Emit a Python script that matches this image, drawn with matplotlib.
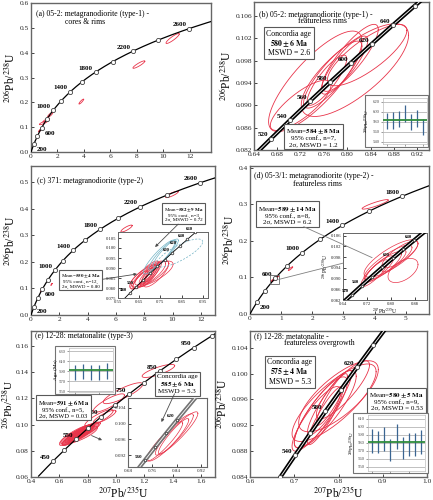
import numpy as np
import matplotlib.pyplot as plt
from matplotlib.patches import Rectangle, ConnectionPatch

plt.rcParams['font.family'] = ['Liberation Serif', 'DejaVu Serif']
plt.rcParams['mathtext.fontset'] = 'stix'

L238 = 1.55125e-10  # decay constants, 1/yr
L235 = 9.8485e-10

RED = '#e8344a'
TEAL = '#74b4c6'
BAR = '#3a6592'
GREEN = '#2e8b3c'
YLAB = '$^{206}$Pb/$^{238}$U'
XLAB = '$^{207}$Pb/$^{235}$U'

# ---- concordia markers / labelled ages (Ma) ----
marks_a = [200, 400, 600, 800, 1000, 1200, 1400, 1600, 1800, 2000, 2200, 2400, 2600, 2800]
lab_a = [200, 600, 1000, 1400, 1800, 2200, 2600]
marks_b = [500, 520, 540, 560, 580, 600, 620, 640, 660]
lab_b = [520, 540, 560, 580, 600, 620, 640]
marks_c_in = [480, 500, 520, 540, 560, 580, 600, 620, 640, 660]
lab_c_in = [480, 500, 600, 620, 640, 660]
marks_d = [200, 400, 600, 800, 1000, 1200, 1400, 1600, 1800, 2000]
lab_d = [200, 600, 1000, 1400, 1800]
marks_d_in = [520, 540, 560, 580, 600, 620, 640]
lab_d_in = [520, 540, 600, 640]
marks_e = [450, 500, 550, 600, 650, 700, 750, 800, 850, 900, 950, 1000]
lab_e = [450, 550, 650, 750, 850, 950]
marks_e_in = [560, 580, 600, 620]
lab_e_in = [560, 620]
marks_f = [520, 540, 560, 580, 600, 620, 640, 660]
lab_f = [540, 580, 620]

# ---- error ellipses: (207Pb/235U, 206Pb/238U, half-width, half-height, rho) ----
ell_a = [(10.70, 0.457, 0.50, 0.020, 0.90), (8.15, 0.352, 0.45, 0.015, 0.90),
         (3.80, 0.203, 0.18, 0.010, 0.90), (0.95, 0.118, 0.32, 0.008, 0.85),
         (1.15, 0.128, 0.25, 0.008, 0.85), (1.45, 0.150, 0.20, 0.010, 0.85)]
dots_a = [(0.72, 0.089, 0.10, 0.006, 0.9), (0.80, 0.096, 0.08, 0.005, 0.9),
          (0.62, 0.085, 0.06, 0.004, 0.9)]

ell_b = [(0.745, 0.0943, 0.080, 0.0090, 0.80), (0.813, 0.0963, 0.092, 0.0083, 0.75),
         (0.834, 0.0990, 0.068, 0.0055, 0.80), (0.720, 0.0900, 0.052, 0.0045, 0.80),
         (0.775, 0.0955, 0.050, 0.0060, 0.85), (0.765, 0.0945, 0.034, 0.0045, 0.85),
         (0.795, 0.0972, 0.040, 0.0052, 0.85), (0.805, 0.0985, 0.048, 0.0060, 0.85)]

ell_c = [(9.95, 0.453, 0.45, 0.012, 0.85), (6.75, 0.325, 0.40, 0.013, 0.85)]
dots_c = [(0.76, 0.093, 0.09, 0.005, 0.9), (1.45, 0.115, 0.05, 0.004, 0.9)]
ell_c_red = [(0.690, 0.0865, 0.085, 0.0070, 0.80), (0.710, 0.0870, 0.100, 0.0065, 0.75),
             (0.680, 0.0858, 0.060, 0.0060, 0.85), (0.700, 0.0862, 0.045, 0.0055, 0.85),
             (0.695, 0.0870, 0.035, 0.0050, 0.85), (0.720, 0.0875, 0.070, 0.0060, 0.80),
             (0.670, 0.0850, 0.050, 0.0050, 0.85), (0.705, 0.0866, 0.030, 0.0045, 0.90),
             (0.715, 0.0880, 0.040, 0.0050, 0.85), (0.730, 0.0870, 0.060, 0.0065, 0.80),
             (0.685, 0.0875, 0.055, 0.0060, 0.85), (0.650, 0.0840, 0.040, 0.0045, 0.85)]
ell_c_blue = [(0.745, 0.0955, 0.075, 0.0085, 0.90), (0.760, 0.0965, 0.065, 0.0075, 0.90),
              (0.775, 0.0975, 0.060, 0.0070, 0.90)]
ell_c_dash = [(0.840, 0.0975, 0.110, 0.0070, 0.80)]

ell_d = [(4.02, 0.300, 0.42, 0.013, 0.90), (1.30, 0.124, 0.07, 0.005, 0.90)]
dots_d = [(0.78, 0.095, 0.10, 0.006, 0.9), (0.85, 0.100, 0.06, 0.004, 0.9)]
ell_d_in = [(0.790, 0.0960, 0.080, 0.0065, 0.85), (0.800, 0.0975, 0.090, 0.0070, 0.80),
            (0.775, 0.0945, 0.060, 0.0055, 0.85), (0.760, 0.0935, 0.050, 0.0050, 0.85),
            (0.830, 0.0990, 0.060, 0.0050, 0.80), (0.840, 0.0930, 0.050, 0.0045, 0.50),
            (0.745, 0.0920, 0.045, 0.0050, 0.85), (0.810, 0.0965, 0.040, 0.0040, 0.85)]

ell_e = [(1.30, 0.1410, 0.115, 0.0050, 0.80), (1.05, 0.1240, 0.140, 0.0080, 0.85),
         (0.95, 0.1165, 0.110, 0.0070, 0.85), (0.88, 0.1050, 0.100, 0.0065, 0.85),
         (0.92, 0.1060, 0.080, 0.0050, 0.85)]
clus_e = [(0.72, 0.0920, 0.12, 0.0080, 0.85), (0.74, 0.0930, 0.10, 0.0070, 0.85),
          (0.75, 0.0940, 0.09, 0.0060, 0.85), (0.70, 0.0900, 0.08, 0.0060, 0.85),
          (0.78, 0.0950, 0.10, 0.0065, 0.85), (0.76, 0.0925, 0.07, 0.0050, 0.85),
          (0.73, 0.0915, 0.06, 0.0050, 0.85), (0.71, 0.0905, 0.05, 0.0040, 0.85),
          (0.77, 0.0945, 0.08, 0.0055, 0.85), (0.69, 0.0895, 0.07, 0.0050, 0.85),
          (0.80, 0.0960, 0.09, 0.0060, 0.85), (0.74, 0.0920, 0.13, 0.0070, 0.80)]
ell_e_in = [(0.820, 0.0965, 0.075, 0.0060, 0.92), (0.840, 0.0975, 0.070, 0.0055, 0.92),
            (0.800, 0.0955, 0.060, 0.0050, 0.92), (0.830, 0.0968, 0.050, 0.0045, 0.92)]

ell_f = [(0.790, 0.0955, 0.095, 0.0060, 0.80), (0.800, 0.0965, 0.090, 0.0055, 0.75),
         (0.770, 0.0945, 0.070, 0.0060, 0.85), (0.760, 0.0940, 0.060, 0.0055, 0.85),
         (0.780, 0.0955, 0.050, 0.0050, 0.90), (0.770, 0.0935, 0.040, 0.0045, 0.90),
         (0.810, 0.0975, 0.060, 0.0045, 0.85), (0.750, 0.0930, 0.055, 0.0050, 0.85),
         (0.785, 0.0960, 0.035, 0.0040, 0.90)]

# ---- weighted mean insets (Ma) ----
wm_b = [581, 583, 586, 597, 579, 587, 569]
wm_b_err = [16, 17, 16, 17, 16, 17, 16]
wm_b_mean = 583
wm_e = [588, 589, 588, 588, 590]
wm_e_err = [15, 15, 15, 15, 16]
wm_e_mean = 593
wm_f = [583, 581, 585, 571, 588, 574, 578, 578, 581]
wm_f_err = [15, 14, 15, 14, 16, 14, 14, 14, 15]
wm_f_mean = 581

# ---- ticks ----
xt_a = [0, 2, 4, 6, 8, 10, 12]
yt_a = [0.0, 0.1, 0.2, 0.3, 0.4, 0.5, 0.6]
xt_b = [0.64, 0.68, 0.72, 0.76, 0.80, 0.84, 0.88, 0.92]
yt_b = [0.082, 0.086, 0.090, 0.094, 0.098, 0.102, 0.106]
yt_c = [0.0, 0.1, 0.2, 0.3, 0.4, 0.5]
xt_c_in = [0.55, 0.65, 0.75, 0.85, 0.95]
yt_c_in = [0.075, 0.080, 0.085, 0.090, 0.095, 0.100, 0.105]
xt_d = [0, 1, 2, 3, 4, 5]
yt_d = [0.0, 0.1, 0.2, 0.3, 0.4]
xt_d_in = [0.64, 0.72, 0.80, 0.88]
yt_d_in = [0.082, 0.086, 0.090, 0.094, 0.098, 0.102, 0.106]
xt_e = [0.4, 0.6, 0.8, 1.0, 1.2, 1.4, 1.6]
yt_e = [0.06, 0.08, 0.10, 0.12, 0.14, 0.16]
xt_e_in = [0.68, 0.76, 0.84, 0.92]
yt_e_in = [0.092, 0.096, 0.100, 0.104]
xt_f = [0.6, 0.7, 0.8, 0.9, 1.0]
yt_f = [0.084, 0.088, 0.092, 0.096, 0.100, 0.104]
yt_wm_b = [540, 560, 580, 600, 620]
yt_wm_e = [550, 570, 590, 610, 630]
yt_wm_f = [550, 560, 570, 580, 590, 600, 610]


fig = plt.figure(figsize=(4.33, 5.0), dpi=100)


def px(x0, y0, x1, y1):
    # pixel box (top-left origin) -> figure fraction rect
    return [x0 / 433, 1 - y1 / 500, (x1 - x0) / 433, (y1 - y0) / 500]


def conc_xy(t):
    t = np.asarray(t, dtype=float) * 1e6
    return np.exp(L235 * t) - 1, np.exp(L238 * t) - 1


def concordia(ax, t0, t1, marks, labels, right=(), thick=False, color='k',
              lw=0.9, ms=3, fs=5):
    x, y = conc_xy(np.linspace(t0, t1, 500))
    if thick:
        ax.plot(x, y, color=color, lw=3.0, solid_capstyle='butt', zorder=3)
        ax.plot(x, y, color='white', lw=0.6, zorder=3)
    else:
        ax.plot(x, y, color=color, lw=lw, zorder=3)
    mx, my = conc_xy(marks)
    ax.plot(mx, my, 'o', ms=ms, mfc='white', mec='0.25', mew=0.6, zorder=4)
    for t in labels:
        lx, ly = conc_xy(t)
        if t in right:
            ax.annotate(str(t), (lx, ly), xytext=(2, -2), textcoords='offset points',
                        ha='left', va='top', fontsize=fs, fontweight='bold', zorder=5)
        else:
            ax.annotate(str(t), (lx, ly), xytext=(-2, 1), textcoords='offset points',
                        ha='right', va='bottom', fontsize=fs, fontweight='bold', zorder=5)


def ellipses(ax, ells, color=RED, lw=0.6, fill=None, alpha=1.0, ls='-'):
    th = np.linspace(0, 2 * np.pi, 150)
    for cx, cy, sx, sy, r in ells:
        x = cx + sx * np.cos(th)
        y = cy + sy * (r * np.cos(th) + np.sqrt(1 - r * r) * np.sin(th))
        if fill:
            ax.fill(x, y, color=fill, lw=0, alpha=alpha, zorder=2)
        ax.plot(x, y, color=color, lw=lw, ls=ls, zorder=2)


def style(ax, xlim, ylim, xt, yt, fx, fy, fs=5.3, spine=1.0):
    ax.set_xlim(xlim)
    ax.set_ylim(ylim)
    ax.set_xticks(xt)
    ax.set_yticks(yt)
    ax.set_xticklabels([fx.format(v) for v in xt])
    ax.set_yticklabels([fy.format(v) for v in yt])
    ax.tick_params(direction='in', length=2, width=0.6, labelsize=fs,
                   colors='0.15', pad=1.5)
    for s in ax.spines.values():
        s.set_color('0.4')
        s.set_linewidth(spine)


def textbox(ax, x, y, s, fs=5.6, transform=None):
    ax.text(x, y, s, transform=transform or ax.transAxes, ha='center', va='center',
            fontsize=fs, linespacing=1.05, zorder=6,
            bbox=dict(boxstyle='square,pad=0.3', fc='white', ec='0.35', lw=0.8))


def wm_inset(frame, inner, vals, errs, mean, ylim, yt, ylabel):
    fig.add_artist(Rectangle((frame[0], frame[1]), frame[2], frame[3],
                             transform=fig.transFigure, fc='white', ec='0.45',
                             lw=0.8, zorder=2))
    ax = fig.add_axes(inner, zorder=3)
    vals = np.asarray(vals)
    errs = np.asarray(errs)
    xs = np.arange(1, len(vals) + 1)
    for v in yt:
        ax.axhline(v, color='0.65', lw=0.5, zorder=1)
    ax.vlines(xs, vals - errs, vals + errs, color=BAR, lw=0.9, zorder=2)
    ax.axhline(mean, color=GREEN, lw=1.3, zorder=3)
    ax.set_xlim(0.3, len(vals) + 0.7)
    ax.set_ylim(ylim)
    ax.set_yticks(yt)
    ax.set_xticks(xs[::3])
    ax.set_xticklabels([])
    ax.tick_params(direction='out', length=1.2, width=0.4, labelsize=3.4,
                   colors='0.3', pad=1)
    for s in ax.spines.values():
        s.set_color('0.75')
        s.set_linewidth(0.5)
    ax.set_ylabel(ylabel, fontsize=3.8, labelpad=1)
    return ax


# ---------------- (a) ----------------
ax_a = fig.add_axes(px(31, 3, 211, 152))
concordia(ax_a, 0, 2900, marks_a, lab_a, right=(200, 600))
ellipses(ax_a, ell_a)
ellipses(ax_a, dots_a, fill=RED)
style(ax_a, (0, 13.6), (0, 0.6), xt_a, yt_a, '{:.0f}', '{:.1f}')
ax_a.set_ylabel(YLAB, fontsize=8.3, labelpad=2)
ax_a.text(0.03, 0.925, '(a) 05-2: metagranodiorite (type-1) -', transform=ax_a.transAxes,
          fontsize=5.6, va='center')
ax_a.text(0.19, 0.875, 'cores & rims', transform=ax_a.transAxes, fontsize=5.6, va='center')

# ---------------- (b) ----------------
ax_b = fig.add_axes(px(254, 2, 429, 150))
ellipses(ax_b, ell_b)
concordia(ax_b, 480, 700, marks_b, lab_b, thick=True)
style(ax_b, (0.64, 0.94), (0.082, 0.1085), xt_b, yt_b, '{:.2f}', '{:.3f}')
ax_b.set_ylabel(YLAB, fontsize=8.3, labelpad=2)
ax_b.text(0.03, 0.915, '(b) 05-2: metagranodiorite (type-1) -', transform=ax_b.transAxes,
          fontsize=5.6, va='center')
ax_b.text(0.25, 0.87, 'featureless rims', transform=ax_b.transAxes, fontsize=5.6, va='center')
textbox(ax_b, 0.20, 0.72, 'Concordia age\n$\\mathbf{580\\pm6\\ Ma}$\nMSWD = 2.6')
textbox(ax_b, 0.34, 0.085, 'Mean=$\\mathbf{584\\pm8\\ Ma}$\n95% conf., n=7,\n2σ, MSWD = 1.2',
        fs=5.0)
wm_inset(px(365, 95, 428, 147), px(383, 98, 427, 144), wm_b, wm_b_err, wm_b_mean,
         (535, 628), yt_wm_b, YLAB)

# ---------------- (c) ----------------
ax_c = fig.add_axes(px(31, 166, 215, 315))
concordia(ax_c, 0, 2900, marks_a, lab_a, right=(200, 600))
ellipses(ax_c, ell_c)
ellipses(ax_c, dots_c, fill=RED)
style(ax_c, (0, 13.0), (0, 0.56), xt_a, yt_c, '{:.0f}', '{:.1f}')
ax_c.set_ylabel(YLAB, fontsize=8.3, labelpad=2)
ax_c.text(0.03, 0.90, '(c) 371: metagranodiorite (type-2)', transform=ax_c.transAxes,
          fontsize=5.6, va='center')
ins_c = fig.add_axes(px(118, 232, 208, 298), zorder=3)
ellipses(ins_c, ell_c_red, lw=0.5)
ellipses(ins_c, ell_c_blue, color=TEAL, lw=0.5)
ellipses(ins_c, ell_c_dash, color=TEAL, lw=0.5, ls=(0, (3, 2)))
concordia(ins_c, 440, 700, marks_c_in, lab_c_in, lw=0.6, ms=1.8, fs=3.4)
style(ins_c, (0.55, 0.975), (0.075, 0.108), xt_c_in, yt_c_in, '{:.2f}', '{:.3f}',
      fs=3.4, spine=0.7)
textbox(ax_c, 0.83, 0.675, 'Mean=$\\mathbf{582\\pm9\\ Ma}$\n95% conf., n=3,\n2σ, MSWD = 0.72',
        fs=3.6)
textbox(ax_c, 0.27, 0.23, 'Mean=$\\mathbf{550\\pm4\\ Ma}$\n95% conf., n=12,\n2σ, MSWD = 0.80',
        fs=3.6)
fig.add_artist(ConnectionPatch((0.80, 0.61), (0.725, 0.1005), coordsA=ax_c.transAxes,
                               coordsB=ins_c.transData, arrowstyle='-|>', mutation_scale=4,
                               color='0.3', lw=0.6, zorder=6))
fig.add_artist(ConnectionPatch((0.39, 0.24), (0.64, 0.087), coordsA=ax_c.transAxes,
                               coordsB=ins_c.transData, arrowstyle='-|>', mutation_scale=4,
                               color='0.3', lw=0.6, zorder=6))

# ---------------- (d) ----------------
ax_d = fig.add_axes(px(250, 166, 429, 314))
concordia(ax_d, 0, 2100, marks_d, lab_d, right=(200,))
ellipses(ax_d, ell_d)
ellipses(ax_d, dots_d, fill=RED)
style(ax_d, (0, 5.75), (0, 0.405), xt_d, yt_d, '{:.0f}', '{:.1f}')
ax_d.set_ylabel(YLAB, fontsize=8.3, labelpad=2)
ax_d.text(0.02, 0.935, '(d) 05-3/1: metagranodiorite (type-2) -', transform=ax_d.transAxes,
          fontsize=5.6, va='center')
ax_d.text(0.24, 0.88, 'featureless rims', transform=ax_d.transAxes, fontsize=5.6, va='center')
ins_d = fig.add_axes(px(343, 233, 427, 300), zorder=3)
ellipses(ins_d, ell_d_in, lw=0.5)
concordia(ins_d, 480, 700, marks_d_in, lab_d_in, thick=True, ms=1.8, fs=3.4)
style(ins_d, (0.64, 0.92), (0.082, 0.107), xt_d_in, yt_d_in, '{:.2f}', '{:.3f}',
      fs=3.4, spine=0.7)
ins_d.set_xlabel(XLAB, fontsize=4.0, labelpad=0)
ins_d.set_ylabel(YLAB, fontsize=4.0, labelpad=0)
x0, x1 = ins_d.get_xlim()
y0, y1 = ins_d.get_ylim()
ax_d.add_patch(Rectangle((x0, y0), x1 - x0, y1 - y0, fill=False, ec='0.4', lw=0.6, zorder=5))
textbox(ax_d, 0.21, 0.67, 'Mean=$\\mathbf{589\\pm14\\ Ma}$\n95% conf., n=8,\n2σ, MSWD = 6.2',
        fs=5.0)
fig.add_artist(ConnectionPatch((0.30, 0.59), (0.737, 0.0978), coordsA=ax_d.transAxes,
                               coordsB=ins_d.transData, color='0.5', lw=0.6, zorder=6))
fig.add_artist(ConnectionPatch((x1, (y0 + y1) / 2), (0.0, 0.55), coordsA=ax_d.transData,
                               coordsB=ins_d.transAxes, color='0.5', lw=0.6, zorder=6))

# ---------------- (e) ----------------
ax_e = fig.add_axes(px(31, 331, 215, 477))
ellipses(ax_e, clus_e, fill=RED, alpha=0.35, lw=0.5)
ellipses(ax_e, ell_e)
concordia(ax_e, 380, 1100, marks_e, lab_e)
style(ax_e, (0.4, 1.7), (0.06, 0.1715), xt_e, yt_e, '{:.1f}', '{:.2f}')
ax_e.set_ylabel(YLAB, fontsize=8.0, labelpad=0.5)
ax_e.set_xlabel(XLAB, fontsize=8.3, labelpad=1)
ax_e.text(0.02, 0.965, '(e) 12-28: metatonalite (type-3)', transform=ax_e.transAxes,
          fontsize=5.6, va='center')
ins_e = fig.add_axes(px(128, 398, 207, 467), zorder=3)
concordia(ins_e, 500, 700, marks_e_in, lab_e_in, thick=True, color='0.45', ms=1.8, fs=3.6)
ellipses(ins_e, ell_e_in, lw=0.5)
style(ins_e, (0.68, 0.94), (0.089, 0.1065), xt_e_in, yt_e_in, '{:.2f}', '{:.3f}',
      fs=3.6, spine=0.8)
textbox(ax_e, 0.175, 0.47, 'Mean=$\\mathbf{591\\pm6\\ Ma}$\n95% conf., n=5,\n2σ, MSWD = 0.03',
        fs=4.7)
textbox(ax_e, 0.795, 0.635, 'Concordia age\n$\\mathbf{585\\pm6\\ Ma}$\nMSWD = 5.3', fs=5.0)
fig.add_artist(ConnectionPatch((0.78, 0.57), (0.79, 0.1004), coordsA=ax_e.transAxes,
                               coordsB=ins_e.transData, arrowstyle='-|>', mutation_scale=4,
                               color='0.3', lw=0.6, zorder=6))
ax_e.annotate('', xy=(0.92, 0.0873), xytext=(0.81, 0.0925),
              arrowprops=dict(arrowstyle='-|>', mutation_scale=4, color='0.3', lw=0.6),
              zorder=6)
wm_inset(px(55, 346, 115, 394), px(69, 348, 113, 392), wm_e, wm_e_err, wm_e_mean,
         (548, 636), yt_wm_e, 'Age (Ma)')

# ---------------- (f) ----------------
ax_f = fig.add_axes(px(250, 331, 427, 477))
ellipses(ax_f, ell_f)
concordia(ax_f, 500, 700, marks_f, lab_f, thick=True)
style(ax_f, (0.6, 1.0), (0.084, 0.1066), xt_f, yt_f, '{:.1f}', '{:.3f}')
ax_f.set_ylabel(YLAB, fontsize=8.3, labelpad=2)
ax_f.set_xlabel(XLAB, fontsize=8.3, labelpad=1)
ax_f.text(0.02, 0.965, '(f) 12-28: metatonalite -', transform=ax_f.transAxes,
          fontsize=5.6, va='center')
ax_f.text(0.19, 0.915, 'featureless overgrowth', transform=ax_f.transAxes,
          fontsize=5.6, va='center')
textbox(ax_f, 0.225, 0.72, 'Concordia age\n$\\mathbf{575\\pm4\\ Ma}$\nMSWD = 5.3')
textbox(ax_f, 0.83, 0.52, 'Mean=$\\mathbf{580\\pm5\\ Ma}$\n95% conf., n=9,\n2σ, MSWD = 0.53',
        fs=5.0)
wm_inset(px(353, 413, 428, 473), px(368, 415, 425, 471), wm_f, wm_f_err, wm_f_mean,
         (545, 615), yt_wm_f, YLAB)

fig.savefig('out.png', dpi=100)
